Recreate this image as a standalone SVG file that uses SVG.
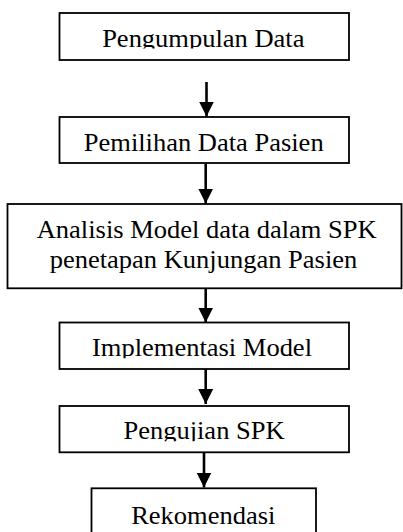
<svg xmlns="http://www.w3.org/2000/svg" width="403" height="532" viewBox="0 0 403 532">
<style>
.box{fill:#fff;stroke:#000;stroke-width:1.8}
.t{font-family:"Liberation Serif","Times New Roman",serif;font-size:26.5px;fill:#000;text-anchor:middle}
.c{stroke:#000;stroke-width:2.6;fill:none}
</style>
<defs>
<marker id="ah" markerUnits="userSpaceOnUse" markerWidth="16" markerHeight="16" viewBox="0 0 16 16" refX="15" refY="8" orient="auto">
<path d="M0,0.5 L15,8 L0,15.5 Z" fill="#000"/>
</marker>
<clipPath id="c1"><rect x="59" y="13" width="290" height="35.5"/></clipPath>
<clipPath id="c4"><rect x="59" y="322" width="290" height="36.3"/></clipPath>
<clipPath id="c5"><rect x="59" y="406" width="290" height="35.3"/></clipPath>
</defs>
<g id="connectors">
<line class="c" x1="206.5" y1="82" x2="206.5" y2="116.5" marker-end="url(#ah)"/>
<line class="c" x1="205.7" y1="164" x2="205.7" y2="203.5" marker-end="url(#ah)"/>
<line class="c" x1="205.7" y1="288" x2="205.7" y2="322.5" marker-end="url(#ah)"/>
<line class="c" x1="205.7" y1="369" x2="205.7" y2="404" marker-end="url(#ah)"/>
<line class="c" x1="204" y1="452" x2="204" y2="487.5" marker-end="url(#ah)"/>
</g>
<g id="n1">
<rect class="box" x="59.5" y="13" width="289.5" height="47"/>
<g clip-path="url(#c1)"><text class="t" transform="translate(203.3,46.8) scale(1,0.92)">Pengumpulan Data</text></g>
</g>
<g id="n2">
<rect class="box" x="59.5" y="117" width="289.5" height="46"/>
<text class="t" transform="translate(203.7,150.5) scale(1,0.92)">Pemilihan Data Pasien</text>
</g>
<g id="n3">
<rect class="box" x="7.5" y="204" width="394" height="84.3"/>
<text class="t" transform="translate(206.7,237.5) scale(1,0.92)">Analisis Model data dalam SPK</text>
<text class="t" transform="translate(203.5,268) scale(1,0.92)">penetapan Kunjungan Pasien</text>
</g>
<g id="n4">
<rect class="box" x="59.5" y="322.5" width="289.5" height="46.5"/>
<g clip-path="url(#c4)"><text class="t" transform="translate(202,356) scale(1,0.92)">Implementasi Model</text></g>
</g>
<g id="n5">
<rect class="box" x="59.5" y="406" width="289.5" height="46.3"/>
<g clip-path="url(#c5)"><text class="t" transform="translate(204,439) scale(1,0.92)">Pengujian SPK</text></g>
</g>
<g id="n6">
<rect class="box" x="91.5" y="488.3" width="224.5" height="50"/>
<text class="t" transform="translate(203.3,524) scale(1,0.92)">Rekomendasi</text>
</g>
</svg>
